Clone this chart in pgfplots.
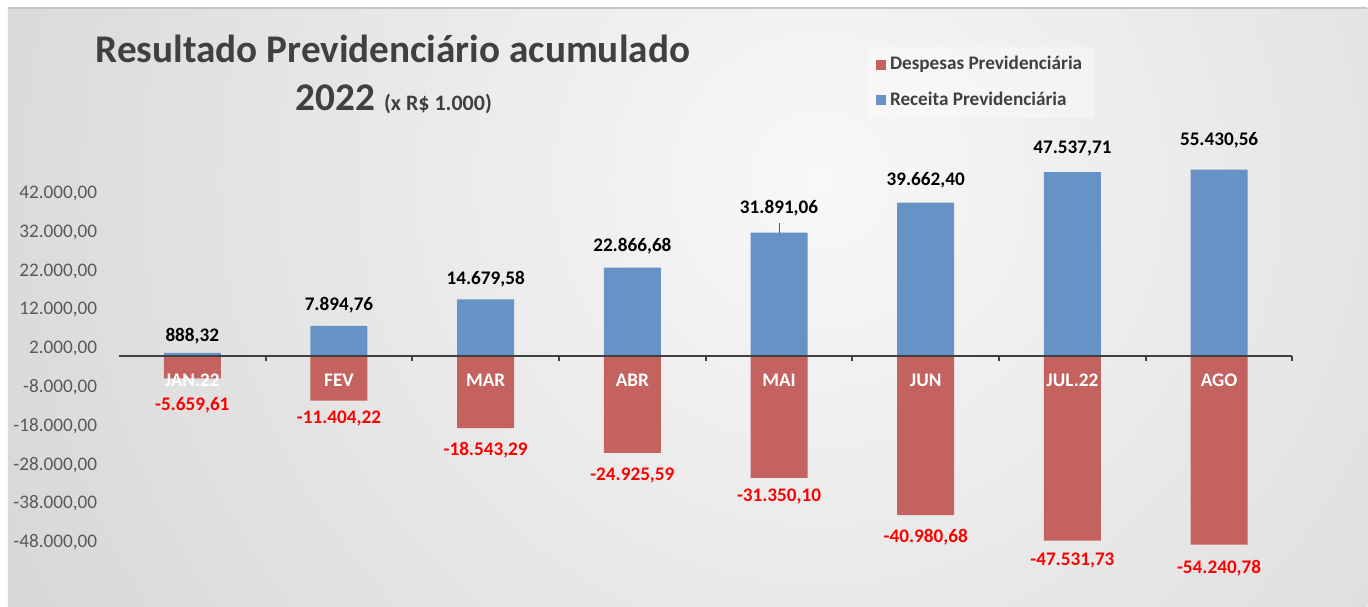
\documentclass[border=0pt]{standalone}
\usepackage{pgfplots}
\pgfplotsset{compat=1.18}
\usepackage{fontspec}
\setmainfont{Carlito}
\definecolor{barblue}{HTML}{6692C6}
\definecolor{barred}{HTML}{C3625F}
\definecolor{titlegray}{HTML}{404040}
\definecolor{tickgray}{HTML}{595959}
\definecolor{axisgray}{HTML}{404040}
\definecolor{bgin}{HTML}{F8F8F8}
\definecolor{bgout}{HTML}{BBBBBB}
\newcommand\tickf{\fontsize{9.6pt}{11pt}\selectfont}
\newcommand\labf{\bfseries\fontsize{9.6pt}{11pt}\selectfont}
\newcommand\legf{\bfseries\fontsize{9.6pt}{11pt}\selectfont}
\begin{document}
\begin{tikzpicture}
\fill[white] (0,0) rectangle (684pt,303.5pt);
\begin{scope}
\clip (4pt,0) rectangle (684pt,299.5pt);
\shade[inner color=bgin, outer color=bgout] (410pt,213.5pt) circle (850pt);
\end{scope}
\draw[gray!45, line width=0.6pt] (4pt,299.5pt) -- (684pt,299.5pt);
\node[anchor=base, font=\bfseries\fontsize{19.6pt}{22pt}\selectfont, text=titlegray] at (196.5pt,272pt) {Resultado Previdenciário acumulado};
\node[anchor=base, font=\bfseries\fontsize{19.6pt}{22pt}\selectfont, text=titlegray] at (197pt,248pt) {2022 {\fontsize{11pt}{13pt}\selectfont (x R\$ 1.000)}};
\begin{axis}[
  at={(59.5pt,12.8pt)}, anchor=south west,
  scale only axis, width=587pt, height=224.9pt,
  xmin=-0.5, xmax=7.5, ymin=-58000, ymax=58000,
  axis x line=middle, axis y line=left,
  x axis line style={-, draw=axisgray, line width=1.1pt},
  y axis line style={draw=none},
  xtick={-0.5,0.5,...,7.5}, xticklabels={},
  x tick style={draw=axisgray, line width=1pt},
  xtick align=outside, major tick length=2.2pt,
  scaled y ticks=false,
  ytick={-48000,-38000,-28000,-18000,-8000,2000,12000,22000,32000,42000},
  yticklabels={{-48.000,00},{-38.000,00},{-28.000,00},{-18.000,00},{-8.000,00},{2.000,00},{12.000,00},{22.000,00},{32.000,00},{42.000,00}},
  y tick style={draw=none},
  yticklabel style={font=\tickf, text=tickgray, anchor=east, xshift=-6.3pt},
  axis on top,
  clip=false,
  legend style={at={(0.638,1.190)}, anchor=north west, draw=none, fill=white, fill opacity=0.35, text opacity=1, font=\legf, text=titlegray, inner xsep=4pt, inner ysep=3pt, row sep=5.5pt, nodes={inner xsep=2pt}},
  legend cell align=left,
]
\addplot[ybar, bar width=28.5pt, bar shift=0pt, fill=barred, draw=none,
  legend image code/.code={\fill[barred, fill opacity=1] (0pt,-2.5pt) rectangle (5pt,2.5pt);}]
  coordinates {(0,-5659.61) (1,-11404.22) (2,-18543.29) (3,-24925.59) (4,-31350.10) (5,-40980.68) (6,-47531.73) (7,-48600)};
\addlegendentry{Despesas Previdenciária}
\addplot[ybar, bar width=28.5pt, bar shift=0pt, fill=barblue, draw=none,
  legend image code/.code={\fill[barblue, fill opacity=1] (0pt,-2.5pt) rectangle (5pt,2.5pt);}]
  coordinates {(0,888.32) (1,7894.76) (2,14679.58) (3,22866.68) (4,31891.06) (5,39662.40) (6,47537.71) (7,48200)};
\addlegendentry{Receita Previdenciária}
% value labels of Receita
\addplot[forget plot, draw=none, nodes near coords, point meta=explicit symbolic,
  nodes near coords style={anchor=center, font=\labf, text=black}]
  table[meta=lab] {
x y lab
0 5286 888,32
1 13280 7.894,76
2 19985 14.679,58
3 28494 22.866,68
4 38293 31.891,06
5 45513 39.662,40
6 53507 47.537,71
7 55828 55.430,56
};
% value labels of Despesas
\addplot[forget plot, draw=none, nodes near coords, point meta=explicit symbolic,
  nodes near coords style={anchor=center, font=\labf, text=red}]
  table[meta=lab] {
x y lab
0 -12506 -5.659,61
1 -16116 -11.404,22
2 -24110 -18.543,29
3 -30815 -24.925,59
4 -36230 -31.350,10
5 -46545 -40.980,68
6 -52733 -47.531,73
7 -54538 -54.240,78
};
% category names
\addplot[forget plot, draw=none, nodes near coords, point meta=explicit symbolic,
  nodes near coords style={anchor=center, font=\labf, text=white}]
  table[meta=lab] {
x y lab
0 -6300 JAN.22
1 -6300 FEV
2 -6300 MAR
3 -6300 ABR
4 -6300 MAI
5 -6300 JUN
6 -6300 JUL.22
7 -6300 AGO
};
\draw[gray!70!black, line width=0.5pt] (axis cs:4,31950) -- (axis cs:4,34500);
\end{axis}
\end{tikzpicture}
\end{document}
